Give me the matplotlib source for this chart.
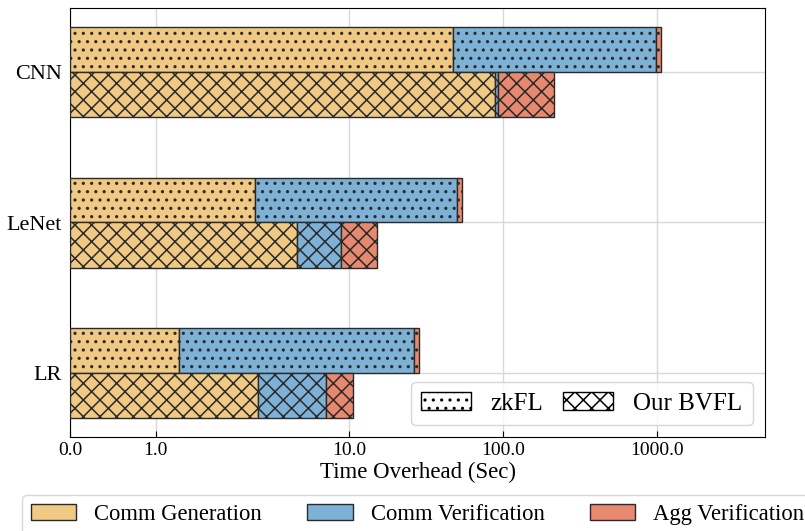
import matplotlib
matplotlib.use("Agg")
import matplotlib.pyplot as plt
from matplotlib.patches import Patch
from matplotlib.ticker import FixedLocator, FormatStrFormatter, NullLocator
import numpy as np

plt.rcParams['font.family'] = ['Liberation Serif', 'DejaVu Serif']
plt.rcParams['hatch.linewidth'] = 1.1

# data (seconds)
models = ["LR", "LeNet", "CNN"]
parts = ["Comm Generation", "Comm Verification", "Agg Verification"]
colors = ["#F0C985", "#7DB2D6", "#E6896F"]

zkfl_gen = [1.27, 2.44, 47.3]
zkfl_ver = [25.2, 47.8, 941.0]
zkfl_agg = [2.1, 3.6, 72.0]

bvfl_gen = [2.55, 4.6, 89.0]
bvfl_ver = [4.53, 4.26, 3.2]
bvfl_agg = [3.46, 6.3, 122.0]

xticks = [0, 1, 10, 100, 1000]

fig = plt.figure(figsize=(8.05, 5.31), dpi=100)
ax = fig.add_axes([70 / 805, 1 - 437 / 531, 695 / 805, 429 / 531])

y = np.arange(len(models))
h = 0.3

for series, off, hatch in [((zkfl_gen, zkfl_ver, zkfl_agg), h / 2, '..'),
                           ((bvfl_gen, bvfl_ver, bvfl_agg), -h / 2, 'xx')]:
    left = np.zeros(len(models))
    for vals, c in zip(series, colors):
        ax.barh(y + off, vals, height=h, left=left, color=c, edgecolor='#2a2a2a',
                linewidth=1.0, hatch=hatch, zorder=3)
        left = left + np.array(vals)

ax.set_xscale('symlog', linthresh=2)
ax.set_xlim(0, 5000)
ax.xaxis.set_major_locator(FixedLocator(xticks))
ax.xaxis.set_major_formatter(FormatStrFormatter('%.1f'))
ax.xaxis.set_minor_locator(NullLocator())
ax.set_yticks(y)
ax.set_yticklabels(models, fontsize=16)
ax.tick_params(axis='x', labelsize=14, direction='in', length=4)
ax.tick_params(axis='y', length=0, pad=6)
ax.grid(True, color='#d8d8d8', linewidth=1.0, zorder=0)
ax.set_axisbelow(True)
ax.set_xlabel("Time Overhead (Sec)", fontsize=16.5, labelpad=2)

style_handles = [Patch(facecolor='white', edgecolor='black', hatch='..', label='zkFL'),
                 Patch(facecolor='white', edgecolor='black', hatch='xx', label='Our BVFL')]
ax.legend(handles=style_handles, loc='lower right', ncol=2, fontsize=18, columnspacing=0.8)

part_handles = [Patch(facecolor=c, edgecolor='#2a2a2a', label=p) for c, p in zip(colors, parts)]
fig.legend(handles=part_handles, loc='upper left', ncol=3, fontsize=16.3,
           bbox_to_anchor=(22 / 805, 1 - 495 / 531), borderaxespad=0)

fig.savefig("out.png", dpi=100)
